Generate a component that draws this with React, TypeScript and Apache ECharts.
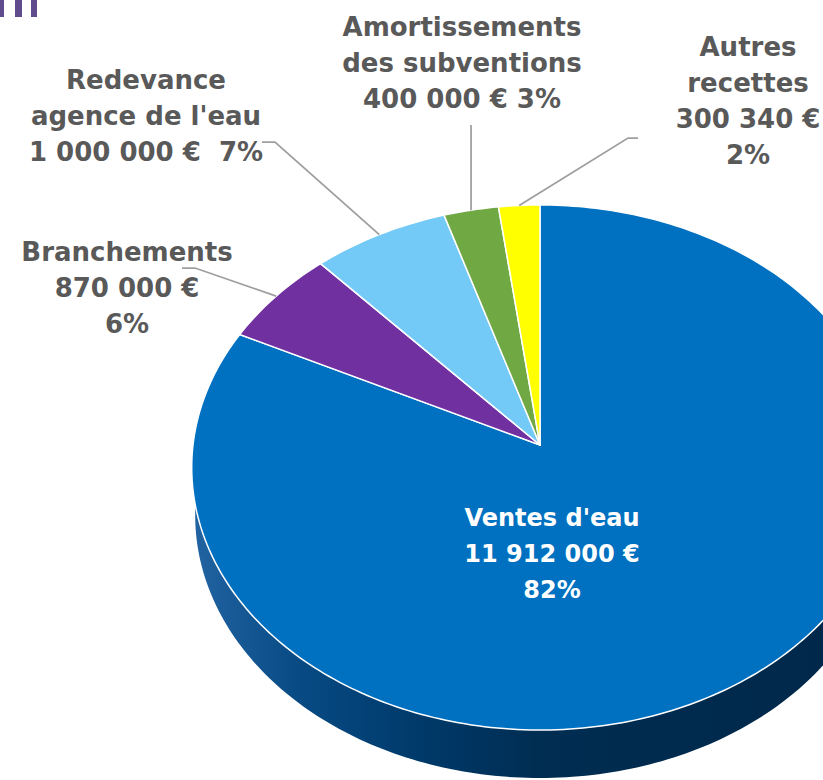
import React, { useEffect, useRef } from 'react';
import * as echarts from 'echarts';

// ---- data ----
const categories = ["Ventes d'eau", 'Branchements', "Redevance agence de l'eau", 'Amortissements des subventions', 'Autres recettes'];
const values = [11912000, 870000, 1000000, 400000, 300340];
const labelNameLines = [["Ventes d'eau"], ['Branchements'], ['Redevance', "agence de l'eau"], ['Amortissements', 'des subventions'], ['Autres', 'recettes']];
const valuePctSeparators = ['\n', '\n', '  ', ' ', '\n'];

// ---- style / layout ----
const sliceColors = ['#0070C0', '#7030A0', '#74CAF6', '#70A844', '#FFFF00'];
const CX = 540, CY = 445, RX = 347, RY = 260.6, K = 0.0857;
const DEPTH = 48, BOTTOM_SCALE = 0.99;
const labelLayout = [
  { x: 552, y: 500, color: '#ffffff', size: 24, leader: null },
  { x: 127, y: 234, color: '#595959', size: 26, leader: [[182, 268], [195, 268]] },
  { x: 146, y: 62, color: '#595959', size: 26, leader: [[262, 142], [275, 142]] },
  { x: 462, y: 9, color: '#595959', size: 26, leader: 'vertical' },
  { x: 748, y: 29, color: '#595959', size: 26, leader: [[638, 138], [628, 138]] },
];

const total = values.reduce((a, b) => a + b, 0);
const starts: number[] = [];
{
  let acc = 0;
  values.forEach((v) => { starts.push(acc); acc += v / total; });
}
const ends = values.map((v, i) => starts[i] + v / total);

function fmtMoney(v: number) {
  return String(v).replace(/\B(?=(\d{3})+(?!\d))/g, ' ') + ' €';
}

// theta measured clockwise from 12 o'clock
function proj(theta: number): [number, number] {
  const u = Math.sin(theta);
  const v = -Math.cos(theta);
  const d = 1 - K * v;
  return [CX + (RX * u) / d, CY + (RY * v) / d];
}

export default function App() {
  const ref = useRef<HTMLDivElement>(null);
  useEffect(() => {
    if (!ref.current) return;
    const chart = echarts.init(ref.current, undefined, { renderer: 'svg' });
    const TAU = Math.PI * 2;

    const graphics: any[] = [];
    // decorative bars top-left
    [[0, 4], [15, 7], [31, 6]].forEach(([x, w]) => {
      graphics.push({ type: 'rect', shape: { x, y: 0, width: w, height: 17 }, style: { fill: '#604C8D' }, z: 10 });
    });

    values.forEach((v, i) => {
      const pct = Math.round((v / total) * 100) + '%';
      const text = [...labelNameLines[i], fmtMoney(v) + valuePctSeparators[i] + pct].join('\n');
      const L = labelLayout[i];
      graphics.push({
        type: 'text',
        x: L.x,
        y: L.y,
        z: 20,
        style: {
          text,
          fill: L.color,
          font: `bold ${L.size}px "DejaVu Sans", sans-serif`,
          lineHeight: 36,
          align: 'center',
          verticalAlign: 'top',
        },
      });
      if (L.leader) {
        const mid = ((starts[i] + ends[i]) / 2) * TAU;
        const anchor = proj(mid);
        let pts: number[][];
        if (L.leader === 'vertical') pts = [[anchor[0], 125], anchor];
        else pts = [...(L.leader as number[][]), anchor];
        graphics.push({
          type: 'polyline',
          z: 15,
          shape: { points: pts },
          style: { stroke: '#9E9E9E', lineWidth: 1.75, fill: null },
        });
      }
    });

    chart.setOption({
      animation: false,
      backgroundColor: '#ffffff',
      graphic: graphics,
      series: [
        {
          type: 'custom',
          name: 'side',
          coordinateSystem: 'none',
          z: 1,
          silent: true,
          data: [[0, 1]],
          renderItem: () => {
            const top: number[][] = [];
            const bottom: number[][] = [];
            const n = 180;
            for (let i = 0; i <= n; i++) {
              const t = Math.PI / 2 + (Math.PI * i) / n;
              const p = proj(t);
              top.push(p);
              bottom.push([CX + (p[0] - CX) * BOTTOM_SCALE, p[1] + DEPTH]);
            }
            const pts = [...top, ...bottom.reverse()];
            return {
              type: 'polygon',
              shape: { points: pts },
              style: {
                fill: {
                  type: 'linear', x: 192, y: 0, x2: 823, y2: 0, global: true,
                  colorStops: [
                    { offset: 0, color: '#2264A2' },
                    { offset: 0.17, color: '#074A84' },
                    { offset: 0.36, color: '#003A6A' },
                    { offset: 0.55, color: '#002D52' },
                    { offset: 1, color: '#00284A' },
                  ],
                },
              },
            };
          },
        },
        {
          type: 'custom',
          name: 'Recettes',
          coordinateSystem: 'none',
          z: 2,
          data: categories.map((c, i) => ({ name: c, value: [starts[i], ends[i], values[i]] })),
          renderItem: (params: any, api: any) => {
            const s = api.value(0) * TAU;
            const e = api.value(1) * TAU;
            const n = Math.max(4, Math.ceil((e - s) / (Math.PI / 180)));
            const pts: number[][] = [[CX, CY]];
            for (let i = 0; i <= n; i++) pts.push(proj(s + ((e - s) * i) / n));
            return {
              type: 'polygon',
              shape: { points: pts },
              style: { fill: sliceColors[params.dataIndex], stroke: '#ffffff', lineWidth: 1.5, lineJoin: 'round' },
            };
          },
        },
      ],
    });
    return () => chart.dispose();
  }, []);
  return <div ref={ref} style={{ position: 'fixed', left: 0, top: 0, width: 823, height: 780 }} />;
}
